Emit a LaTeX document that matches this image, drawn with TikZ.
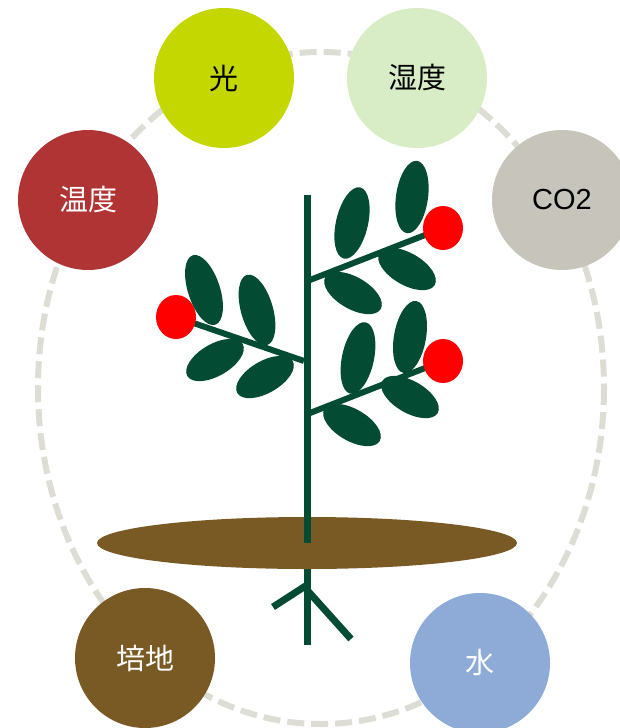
\documentclass[tikz,border=0pt]{standalone}
\usepackage{fontspec}
\setmainfont{Liberation Sans}
\newfontfamily\jpfont{Noto Sans CJK JP}
\usepackage{tikz}
\usetikzlibrary{shapes.geometric}
\usepackage{xcolor}
\definecolor{lightgreen}{RGB}{196,215,0}
\definecolor{palegreen}{RGB}{216,237,197}
\definecolor{tempred}{RGB}{176,52,52}
\definecolor{stonegrey}{RGB}{199,196,187}
\definecolor{soilbrown}{RGB}{122,90,36}
\definecolor{waterblue}{RGB}{141,171,214}
\definecolor{plantgreen}{RGB}{3,75,51}
\definecolor{fruitred}{RGB}{255,0,0}
\definecolor{ringgrey}{RGB}{221,221,214}

\begin{document}
\begin{tikzpicture}[
    x=1pt, y=-1pt,
    factor/.style={circle, minimum size=140pt, inner sep=0pt,
        font=\fontsize{29}{33}\selectfont},
    jp/.style={factor, font=\fontsize{29}{33}\selectfont\jpfont},
    leaf/.style={ellipse, fill=plantgreen, inner sep=0pt},
    upleaf/.style={leaf, minimum width=32pt, minimum height=73pt},
    sideleaf/.style={leaf, minimum width=64pt, minimum height=32pt},
    fruit/.style={ellipse, fill=fruitred, minimum width=40pt, minimum height=44pt, inner sep=0pt},
    stemline/.style={draw=plantgreen, line width=7pt},
]
    \useasboundingbox (0,0) rectangle (619,728);
    % dashed ring behind the factors
    \draw[ringgrey, line width=6pt, dash pattern=on 17pt off 7pt] (321,388) ellipse (283 and 336);

    % growth factors
    \node[jp, fill=lightgreen] (light) at (224,78) {光};
    \node[jp, fill=palegreen] (humid) at (417,78) {湿度};
    \node[jp, fill=tempred, text=white] (temp) at (88,200) {温度};
    \node[factor, fill=stonegrey] (co2) at (562,200) {CO2};
    \node[jp, fill=soilbrown, text=white] (medium) at (145,658) {培地};
    \node[jp, fill=waterblue, text=white] (water) at (480,663) {水};

    % roots
    \coordinate (root-top) at (307,567);
    \coordinate (root-bot) at (307,645);
    \coordinate (root-l) at (273,607);
    \coordinate (root-r) at (351,639);
    \coordinate (root-lj) at (307,585);
    \coordinate (root-rj) at (307,590);
    \draw[stemline] (root-top) -- (root-bot);
    \draw[stemline] (root-lj) -- (root-l);
    \draw[stemline] (root-rj) -- (root-r);

    % soil
    \node[ellipse, fill=soilbrown, minimum width=420pt, minimum height=52pt, inner sep=0pt] (soil) at (307,543) {};

    % stem
    \coordinate (stem-top) at (307,195);
    \draw[stemline] (stem-top) -- (soil.center);

    % branches, each ending in a fruit
    \coordinate (tip-1) at (443,228);
    \coordinate (tip-2) at (443,361);
    \coordinate (tip-3) at (176,317);
    \coordinate (base-1) at (310,280);
    \coordinate (base-2) at (310,413);
    \coordinate (base-3) at (304,361);
    \foreach \i in {1,2,3} {
        \draw[draw=plantgreen, line width=6pt] (base-\i) -- (tip-\i);
        \node[fruit] (fruit-\i) at (tip-\i) {};
    }

    % leaves
    \foreach \x/\y/\a [count=\i] in {352/223/-13, 412/197/-8, 358/358/-12, 410/337/-10, 204/290/18, 257/310/16} {
        \node[upleaf, rotate=\a] (upleaf-\i) at (\x,\y) {};
    }
    \foreach \x/\y/\a [count=\i] in {353/293/-30, 407/269/-30, 352/425/-30, 410/397/-30, 215/360/30, 265/377/30} {
        \node[sideleaf, rotate=\a] (sideleaf-\i) at (\x,\y) {};
    }
\end{tikzpicture}
\end{document}
